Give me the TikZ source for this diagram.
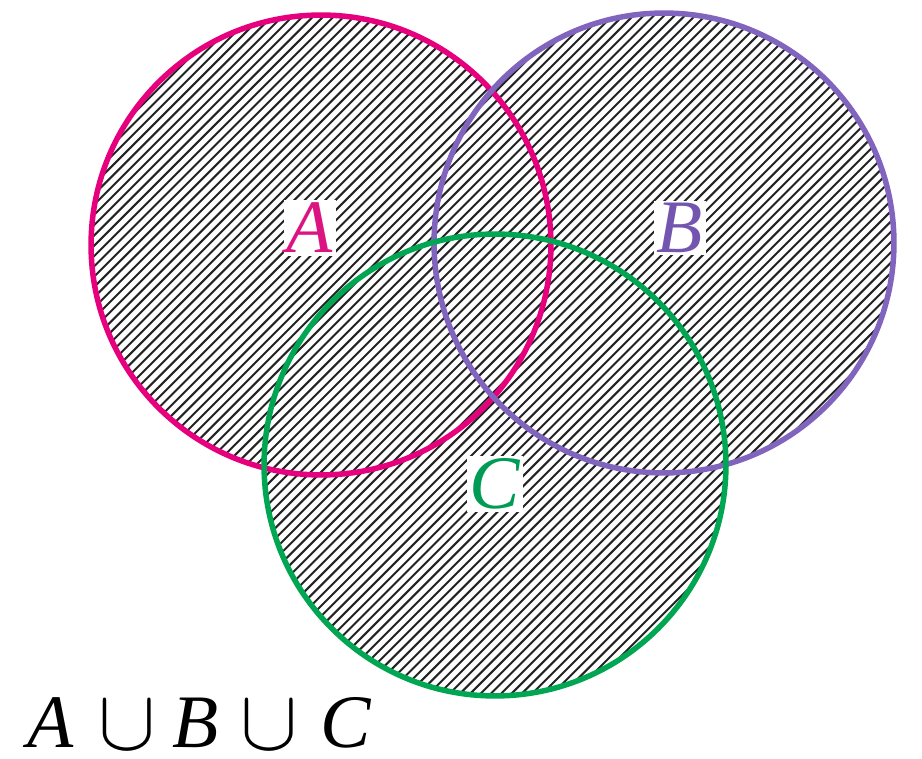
\documentclass[tikz,border=0pt]{standalone}
\usepackage{graphicx}
\usepackage{fontspec}
\setmainfont{Liberation Serif}
\definecolor{cA}{RGB}{230,0,126}
\definecolor{cB}{RGB}{128,100,190}
\definecolor{cC}{RGB}{0,166,81}
\definecolor{lA}{RGB}{220,20,130}
\definecolor{lB}{RGB}{115,85,175}
\definecolor{lC}{RGB}{0,155,85}
\definecolor{hatch}{RGB}{35,35,35}
\newcommand{\bigcupsym}{{\fontsize{10}{12}\selectfont\scalebox{4.9}{$\cup$}}}
\tikzset{
  ring/.style={line width=0.11cm},
  hatchline/.style={hatch, line width=0.04cm},
  setlabel/.style={fill=white, inner sep=1.5pt, font=\fontsize{43}{50}\selectfont\itshape},
  formula/.style={inner sep=0pt, anchor=base, font=\fontsize{43}{50}\selectfont\itshape}
}
\begin{document}
\begin{tikzpicture}[x=0.02cm,y=-0.02cm]
\useasboundingbox (0,0) rectangle (922,759);
\coordinate (ca) at (321,245);
\coordinate (cb) at (664,243);
\coordinate (cc) at (495,465);
\begin{scope}
  \clip (ca) circle [radius=4.6cm] (cb) circle [radius=4.6cm] (cc) circle [radius=4.62cm];
  \foreach \i in {0,...,175} {
    \pgfmathsetmacro{\k}{-800+\i*10.3}
    \draw[hatchline] (\k,800) -- (\k+800,0);
  }
\end{scope}
\draw[ring, cA] (ca) circle [radius=4.6cm];
\draw[ring, cB] (cb) circle [radius=4.6cm];
\draw[ring, cC] (cc) circle [radius=4.62cm];
\node[setlabel, text=lA] (labA) at (310,228) {A};
\node[setlabel, text=lB] (labB) at (680,228) {B};
\node[setlabel, text=lC] (labC) at (495,484) {C};
\node[formula] (fA) at (51,747) {A};
\node[formula] (u1) at (127,749) {\bigcupsym};
\node[formula] (fB) at (196,747) {B};
\node[formula] (u2) at (269,749) {\bigcupsym};
\node[formula] (fC) at (346,747) {C};
\end{tikzpicture}
\end{document}
